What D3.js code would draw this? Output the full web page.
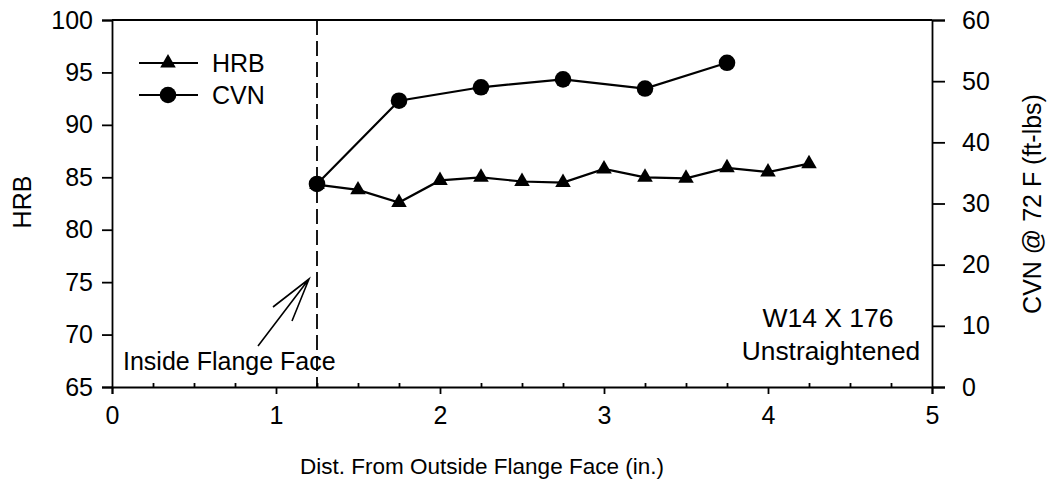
<!DOCTYPE html>
<html>
<head>
<meta charset="utf-8">
<script src="https://cdn.jsdelivr.net/npm/d3@7/dist/d3.min.js"></script>
<style>
  html, body { margin: 0; padding: 0; background: #fff; }
  svg { display: block; font-family: "Liberation Sans", Arial, sans-serif; }
  .axis path, .axis line { stroke: #000; stroke-width: 1.8; }
  .axis text { font-size: 25px; fill: #000; font-family: "Liberation Sans", Arial, sans-serif; }
</style>
</head>
<body>
<svg id="chart" width="1051" height="484"></svg>
<script>
// Hardness (HRB) across the flange and CVN toughness at 72 F, W14 X 176 unstraightened
const hrbDist = [1.25, 1.5, 1.75, 2.0, 2.25, 2.5, 2.75, 3.0, 3.25, 3.5, 3.75, 4.0, 4.25];
const hrbValues = [84.3, 83.8, 82.6, 84.7, 85.0, 84.6, 84.5, 85.8, 85.0, 84.9, 85.9, 85.5, 86.3];
const cvnDist = [1.25, 1.75, 2.25, 2.75, 3.25, 3.75];
const cvnValues = [33.2, 46.8, 49.0, 50.3, 48.8, 53.0];
const xTicks = [0, 1, 2, 3, 4, 5];
const xMinorTicks = [0.25, 0.5, 0.75, 1.25, 1.5, 1.75, 2.25, 2.5, 2.75, 3.25, 3.5, 3.75, 4.25, 4.5, 4.75];
const hrbTicks = [65, 70, 75, 80, 85, 90, 95, 100];
const cvnTicks = [0, 10, 20, 30, 40, 50, 60];
const flangeFace = 1.25;

const svg = d3.select("#chart");
const plot = { left: 112, right: 932, top: 20, bottom: 387 };

const x = d3.scaleLinear().domain([0, 5]).range([plot.left, plot.right]);
const yL = d3.scaleLinear().domain([65, 100]).range([plot.bottom, plot.top]);
const yR = d3.scaleLinear().domain([0, 60]).range([plot.bottom, plot.top]);

// frame top edge
svg.append("line")
  .attr("x1", plot.left).attr("x2", plot.right).attr("y1", plot.top).attr("y2", plot.top)
  .attr("stroke", "#000").attr("stroke-width", 1.8);

// bottom axis: major ticks outward, minor ticks inward
svg.append("g").attr("class", "axis")
  .attr("transform", `translate(0,${plot.bottom})`)
  .call(d3.axisBottom(x).tickValues(xTicks).tickSize(7).tickPadding(12).tickFormat(d3.format("d")));
svg.append("g").attr("class", "axis")
  .attr("transform", `translate(0,${plot.bottom})`)
  .call(d3.axisBottom(x).tickValues(xMinorTicks).tickSize(-4).tickFormat(""))
  .call(g => g.select(".domain").remove());

svg.append("g").attr("class", "axis")
  .attr("transform", `translate(${plot.left},0)`)
  .call(d3.axisLeft(yL).tickValues(hrbTicks).tickSize(10).tickPadding(9));

svg.append("g").attr("class", "axis")
  .attr("transform", `translate(${plot.right},0)`)
  .call(d3.axisRight(yR).tickValues(cvnTicks).tickSize(13).tickPadding(17));

// axis titles
svg.append("text")
  .attr("x", 482).attr("y", 474)
  .attr("text-anchor", "middle").attr("font-size", 22.5)
  .text("Dist. From Outside Flange Face (in.)");
svg.append("text")
  .attr("transform", "translate(22,202) rotate(-90)")
  .attr("text-anchor", "middle").attr("dominant-baseline", "central").attr("font-size", 25)
  .text("HRB");
svg.append("text")
  .attr("transform", "translate(1032,204) rotate(-90)")
  .attr("text-anchor", "middle").attr("dominant-baseline", "central").attr("font-size", 25)
  .text("CVN @ 72 F (ft-lbs)");

// inside flange face marker
svg.append("line")
  .attr("x1", x(flangeFace)).attr("x2", x(flangeFace))
  .attr("y1", plot.top).attr("y2", plot.bottom)
  .attr("stroke", "#000").attr("stroke-width", 1.8)
  .attr("stroke-dasharray", "15,6");

svg.append("path")
  .attr("d", "M258,346L309,279M273,307L309,279L292,321")
  .attr("fill", "none").attr("stroke", "#000").attr("stroke-width", 1.6);
svg.append("text")
  .attr("x", 123).attr("y", 370).attr("font-size", 25)
  .text("Inside Flange Face");

// specimen note
svg.append("text")
  .attr("x", 828).attr("y", 327).attr("text-anchor", "middle").attr("font-size", 26.5)
  .text("W14 X 176");
svg.append("text")
  .attr("x", 831).attr("y", 360).attr("text-anchor", "middle").attr("font-size", 26.3)
  .text("Unstraightened");

// series
const hrbLine = d3.line().x((d, i) => x(hrbDist[i])).y(d => yL(d));
const cvnLine = d3.line().x((d, i) => x(cvnDist[i])).y(d => yR(d));
const tri = d3.symbol().type(d3.symbolTriangle).size(105);

svg.append("path").attr("d", hrbLine(hrbValues))
  .attr("fill", "none").attr("stroke", "#000").attr("stroke-width", 2.2);
svg.selectAll(".hrb-pt").data(hrbValues).join("path")
  .attr("class", "hrb-pt")
  .attr("transform", (d, i) => `translate(${x(hrbDist[i])},${yL(d)})`)
  .attr("d", tri).attr("fill", "#000");

svg.append("path").attr("d", cvnLine(cvnValues))
  .attr("fill", "none").attr("stroke", "#000").attr("stroke-width", 2.2);
svg.selectAll(".cvn-pt").data(cvnValues).join("circle")
  .attr("class", "cvn-pt")
  .attr("cx", (d, i) => x(cvnDist[i])).attr("cy", d => yR(d))
  .attr("r", 8.3).attr("fill", "#000");

// legend
const legend = [
  { name: "HRB", y: 63, marker: "tri" },
  { name: "CVN", y: 95, marker: "circle" }
];
legend.forEach(item => {
  svg.append("line").attr("x1", 139).attr("x2", 198).attr("y1", item.y).attr("y2", item.y)
    .attr("stroke", "#000").attr("stroke-width", 2.2);
  if (item.marker === "tri") {
    svg.append("path").attr("transform", `translate(168,${item.y})`).attr("d", tri).attr("fill", "#000");
  } else {
    svg.append("circle").attr("cx", 168).attr("cy", item.y).attr("r", 8.3).attr("fill", "#000");
  }
  svg.append("text").attr("x", 212).attr("y", item.y).attr("dominant-baseline", "central")
    .attr("font-size", 25).text(item.name);
});
</script>
</body>
</html>
